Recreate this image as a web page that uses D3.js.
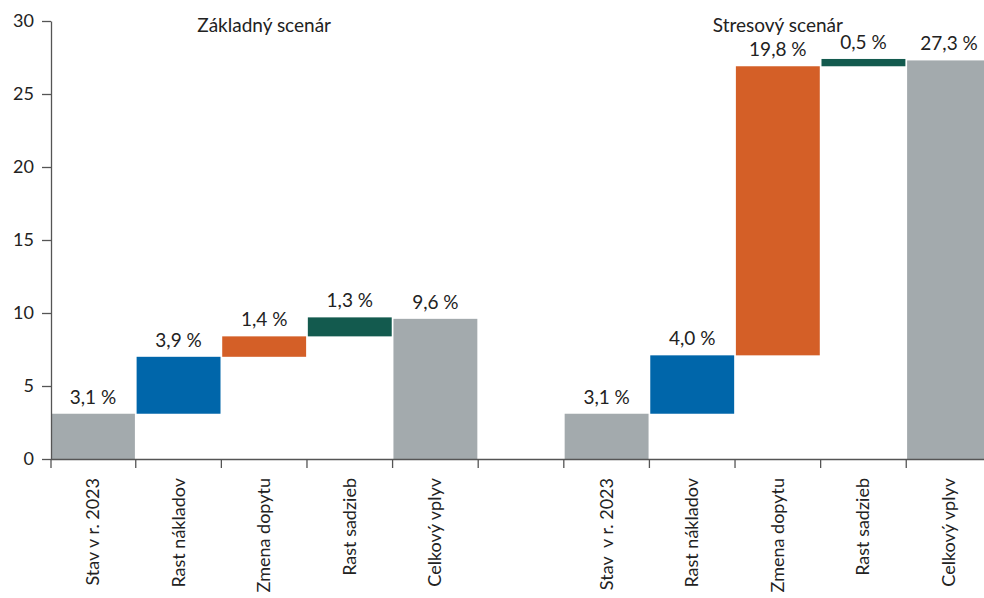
<!DOCTYPE html>
<html>
<head>
<meta charset="utf-8">
<script src="https://cdn.jsdelivr.net/npm/d3@7"></script>
<style>
  body { margin: 0; background: #fff; }
  svg { display: block; font-family: Lato, "Noto Sans", sans-serif; }
</style>
</head>
<body>
<div id="chart"></div>
<script>
// data
const categories = ["Stav v r. 2023", "Rast nákladov", "Zmena dopytu", "Rast sadzieb", "Celkový vplyv"];
const stressCategories = ["Stav  v r. 2023", "Rast nákladov", "Zmena dopytu", "Rast sadzieb", "Celkový vplyv"];
const basicValues = [3.1, 3.9, 1.4, 1.3, 9.6];
const stressValues = [3.1, 4.0, 19.8, 0.5, 27.3];
const scenarioTitles = ["Základný scenár", "Stresový scenár"];
const yTicks = [0, 5, 10, 15, 20, 25, 30];
const stepColors = ["#a3aaad", "#0066aa", "#d45f27", "#135a4e", "#a3aaad"];

const width = 984, height = 598;
const margin = { top: 21, left: 51, bottom: 139 };
const plotBottom = height - margin.bottom; // 459

// build waterfall rows: first and last bars start at 0, others stack
function waterfall(values, labels, group) {
  let acc = 0;
  return values.map((v, i) => {
    let y0, y1;
    if (i === 0) { y0 = 0; y1 = v; acc = v; }
    else if (i === values.length - 1) { y0 = 0; y1 = v; }
    else { y0 = acc; y1 = acc + v; acc += v; }
    return { key: group + i, label: labels[i], value: v, y0: y0, y1: y1, color: stepColors[i] };
  });
}

const rows = waterfall(basicValues, categories, "b")
  .concat([{ key: "gap", label: "", value: null }])
  .concat(waterfall(stressValues, stressCategories, "s"));

const svg = d3.select("#chart").append("svg")
  .attr("width", width)
  .attr("height", height);

const x = d3.scaleBand()
  .domain(rows.map(d => d.key))
  .range([margin.left, 991])
  .paddingInner(0.02)
  .paddingOuter(0);

const y = d3.scaleLinear()
  .domain([0, 30])
  .range([plotBottom, margin.top]);

const fmt = v => v.toFixed(1).replace(".", ",") + " %";

// bars
svg.append("g")
  .selectAll("rect")
  .data(rows.filter(d => d.value !== null))
  .enter().append("rect")
  .attr("x", d => x(d.key))
  .attr("y", d => y(d.y1))
  .attr("width", x.bandwidth())
  .attr("height", d => y(d.y0) - y(d.y1))
  .attr("fill", d => d.color);

// value labels
svg.append("g")
  .selectAll("text")
  .data(rows.filter(d => d.value !== null))
  .enter().append("text")
  .attr("x", d => x(d.key) + x.bandwidth() / 2)
  .attr("y", d => y(d.y1) - 10)
  .attr("text-anchor", "middle")
  .attr("font-size", 19)
  .attr("fill", "#222")
  .text(d => fmt(d.value));

// y axis
const yAxis = svg.append("g")
  .attr("transform", `translate(${margin.left},0)`)
  .call(d3.axisLeft(y).tickValues(yTicks).tickSize(9).tickSizeOuter(0).tickPadding(8));
yAxis.select(".domain").attr("stroke", "#555").attr("stroke-width", 1.3);
yAxis.selectAll(".tick line").attr("stroke", "#555").attr("stroke-width", 1.3);
yAxis.selectAll(".tick text")
  .attr("font-size", 18)
  .attr("font-family", "Lato, 'Noto Sans', sans-serif")
  .attr("fill", "#222");

// x axis: line + ticks on band boundaries + rotated labels
const xg = svg.append("g").attr("class", "axis axis--x");
xg.append("line")
  .attr("x1", margin.left).attr("x2", width)
  .attr("y1", plotBottom + 0.5).attr("y2", plotBottom + 0.5)
  .attr("stroke", "#555").attr("stroke-width", 1.3);

const half = x.step() * x.paddingInner() / 2;
const bounds = rows.map(d => x(d.key) - (x(d.key) === margin.left ? 0 : half));
xg.selectAll(".bound")
  .data(bounds)
  .enter().append("line")
  .attr("class", "bound")
  .attr("x1", d => d).attr("x2", d => d)
  .attr("y1", plotBottom).attr("y2", plotBottom + 9)
  .attr("stroke", "#555").attr("stroke-width", 1.3);

xg.selectAll(".cat")
  .data(rows.filter(d => d.value !== null))
  .enter().append("text")
  .attr("class", "cat")
  .attr("transform", d => `translate(${x(d.key) + x.bandwidth() / 2 + 6},${plotBottom + 19}) rotate(-90)`)
  .attr("text-anchor", "end")
  .attr("font-size", 18)
  .attr("fill", "#222")
  .style("white-space", "pre")
  .text(d => d.label);

// scenario titles, centred over the middle bar of each group
svg.append("g")
  .selectAll("text")
  .data(scenarioTitles)
  .enter().append("text")
  .attr("x", (d, i) => x(i === 0 ? "b2" : "s2") + x.bandwidth() / 2)
  .attr("y", 32)
  .attr("text-anchor", "middle")
  .attr("font-size", 19)
  .attr("fill", "#222")
  .text(d => d);
</script>
</body>
</html>
